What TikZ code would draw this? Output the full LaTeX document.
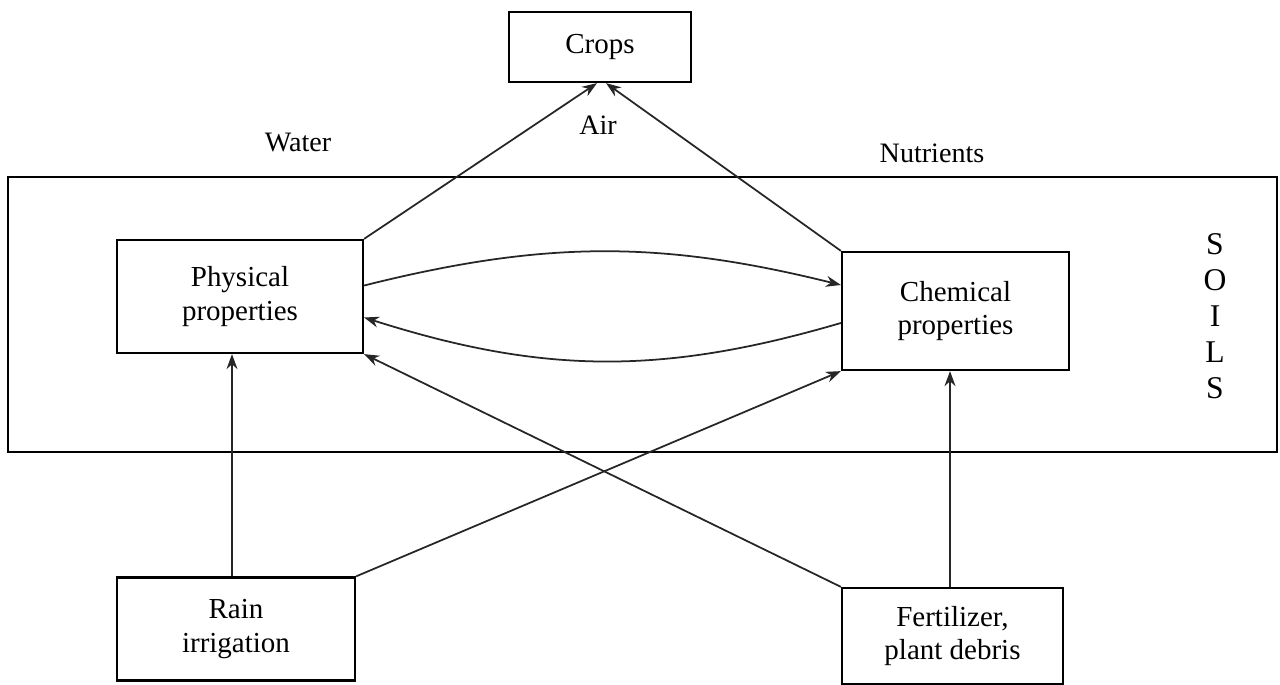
\documentclass[tikz,border=0pt]{standalone}
\usepackage{fontspec}
\setmainfont{Liberation Serif}
\usepackage{tikz}
\usetikzlibrary{arrows.meta, positioning, calc}

\begin{document}
\begin{tikzpicture}[x=0.02cm, y=-0.02cm,
        font=\fontsize{16.5}{19}\selectfont,
        box/.style     = {rectangle, draw=black, line width=1.3pt, align=center, inner sep=0pt},
        soilbox/.style = {rectangle, draw=black, line width=1.2pt, minimum width=25.38cm, minimum height=5.5cm},
        flow/.style    = {draw=black!85, line width=1pt, -{Stealth[length=3mm, width=2.2mm]}},
        lbl/.style     = {font=\fontsize{16}{18}\selectfont, inner sep=1pt}
    ]
    \useasboundingbox (0,0) rectangle (1280,685);

    % --- SOIL frame ---
    \node[soilbox] (soils) at (642.5,314.5) {};
    \node[font=\fontsize{18}{20.5}\selectfont, align=center] (soilname) at (1215,316) {S\\O\\I\\L\\S};

    % --- boxes ---
    \node[box, minimum width=3.64cm, minimum height=1.4cm, fill=white] (crops) at (600,47) {Crops};
    \node[box, minimum width=4.92cm, minimum height=2.26cm, fill=white] (phys) at (240,296.5) {Physical\\ properties};
    \node[box, minimum width=4.54cm, minimum height=2.36cm, fill=white] (chem) at (955.5,311) {Chemical\\ properties};
    \node[box, minimum width=4.76cm, minimum height=2.06cm, fill=white] (rain) at (236,629) {Rain\\ irrigation};
    \node[box, minimum width=4.42cm, minimum height=1.92cm, fill=white] (fert) at (952.5,636) {Fertilizer,\\ plant debris};

    % --- labels ---
    \node[lbl] (water) at (298,143) {Water};
    \node[lbl] (air) at (598,125) {Air};
    \node[lbl] (nutr) at (932,153) {Nutrients};

    % --- to crops ---
    \draw[flow] (phys.north east) -- ([xshift=-0.06cm]crops.south);
    \draw[flow] (chem.north west) -- ([xshift=0.12cm]crops.south);

    % --- exchange between properties ---
    \draw[flow] ([yshift=0.22cm]phys.east) to[bend left=14] ([yshift=0.52cm]chem.west);
    \draw[flow] ([yshift=-0.24cm]chem.west) to[bend left=17] ([yshift=-0.42cm]phys.east);

    % --- inputs ---
    \draw[flow] ([xshift=-0.08cm]rain.north) -- ([xshift=-0.08cm]rain.north |- phys.south);
    \draw[flow] (rain.north east) -- (chem.south west);
    \draw[flow] (fert.north west) -- (phys.south east);
    \draw[flow] ([xshift=-0.05cm]fert.north) -- ([xshift=-0.05cm]fert.north |- chem.south);

\end{tikzpicture}
\end{document}
